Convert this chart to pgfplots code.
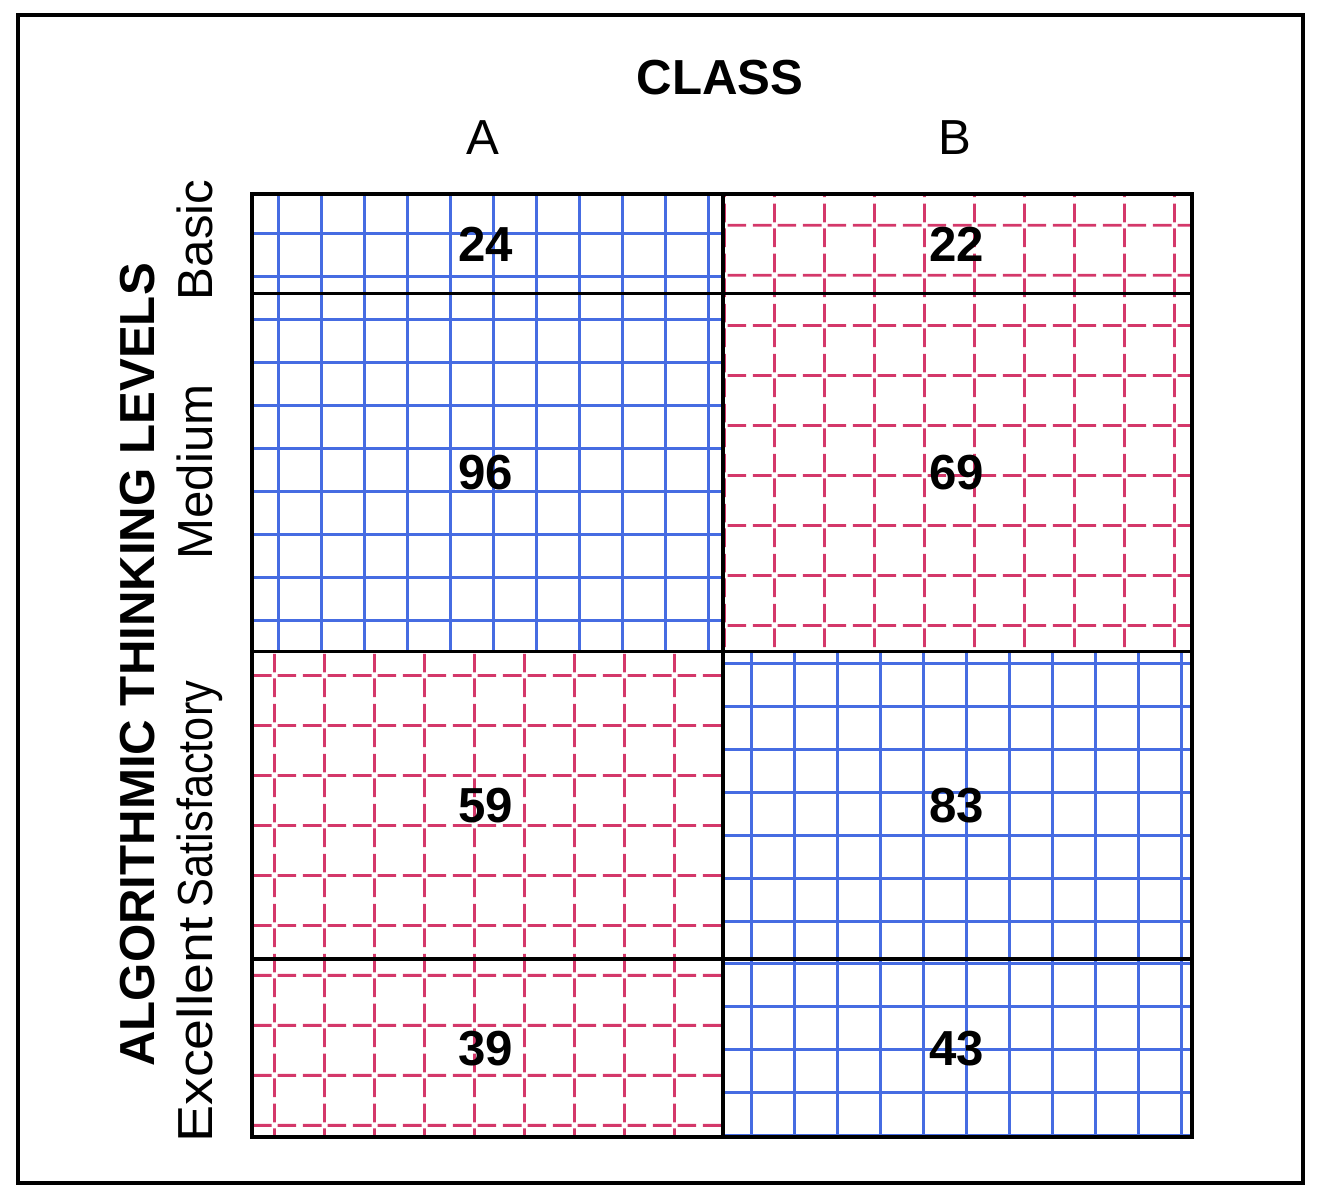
\documentclass[border=0pt]{standalone}
\usepackage{fontspec}
\setmainfont{Liberation Sans}
\usepackage{pgfplots}
\pgfplotsset{compat=1.18}
\usetikzlibrary{patterns.meta}

\definecolor{gblue}{RGB}{70,108,226}
\definecolor{gred}{RGB}{212,56,106}
\newcommand\fs{\fontsize{14}{17}\selectfont}

% solid grid (blue cells) and dashed grid (red cells)
\tikzdeclarepattern{
  name=bgrid, type=uncolored,
  tile size={(0.43cm,0.43cm)},
  bounding box={(0,0) and (0.43cm,0.43cm)},
  code={\draw[line width=0.75pt] (0,0.215cm) -- (0.43cm,0.215cm)
        (0.215cm,0) -- (0.215cm,0.43cm);}
}
\tikzdeclarepattern{
  name=rgrid, type=uncolored,
  tile size={(0.50cm,0.50cm)},
  bounding box={(0,0) and (0.50cm,0.50cm)},
  code={\draw[line width=0.8pt, dash pattern=on 0.19cm off 0.06cm, dash phase=0.22cm]
        (0,0.25cm) -- (0.50cm,0.25cm) (0.25cm,0) -- (0.25cm,0.50cm);}
}

\begin{document}
\begin{tikzpicture}
\path (0,0) rectangle (13.21,12.00);
\draw[line width=1pt] (0.18,0.17) rectangle (13.03,11.85);

% columns: A = 218, B = 217 pupils; rows: Basic 46, Medium 165, Satisfactory 142, Excellent 82
\begin{axis}[
  at={(2.52cm,0.63cm)}, anchor=south west,
  scale only axis, width=9.40cm, height=9.43cm,
  xmin=0, xmax=435, ymin=0, ymax=435, y dir=reverse,
  hide axis, clip=false,
  cell/.style={draw=black, line width=1pt},
]
% class A
\addplot[cell, pattern=bgrid, pattern color=gblue] coordinates {(0,0) (218,0) (218,46) (0,46)} -- cycle;
\addplot[cell, pattern=bgrid, pattern color=gblue] coordinates {(0,46) (218,46) (218,211) (0,211)} -- cycle;
\addplot[cell, pattern=rgrid, pattern color=gred] coordinates {(0,211) (218,211) (218,353) (0,353)} -- cycle;
\addplot[cell, pattern=rgrid, pattern color=gred] coordinates {(0,353) (218,353) (218,435) (0,435)} -- cycle;
% class B
\addplot[cell, pattern=rgrid, pattern color=gred] coordinates {(218,0) (435,0) (435,46) (218,46)} -- cycle;
\addplot[cell, pattern=rgrid, pattern color=gred] coordinates {(218,46) (435,46) (435,211) (218,211)} -- cycle;
\addplot[cell, pattern=bgrid, pattern color=gblue] coordinates {(218,211) (435,211) (435,353) (218,353)} -- cycle;
\addplot[cell, pattern=bgrid, pattern color=gblue] coordinates {(218,353) (435,353) (435,435) (218,435)} -- cycle;

\begin{scope}[every node/.style={font=\fs\bfseries}]
\node at (axis cs:108,23) {24};
\node at (axis cs:108,128.5) {96};
\node at (axis cs:108,282) {59};
\node at (axis cs:108,394) {39};
\node at (axis cs:326,23) {22};
\node at (axis cs:326,128.5) {69};
\node at (axis cs:326,282) {83};
\node at (axis cs:326,394) {43};
\end{scope}
\end{axis}

\node[font=\fs\bfseries, anchor=base] at (7.20,11.05) {CLASS};
\node[font=\fs, anchor=base] at (4.83,10.45) {A};
\node[font=\fs, anchor=base] at (9.55,10.45) {B};

\node[font=\fs\bfseries, anchor=base, rotate=90] at (1.55,5.35) {ALGORITHMIC THINKING LEVELS};
\node[font=\fs, anchor=base, rotate=90] at (2.13,9.60) {Basic};
\node[font=\fs, anchor=base, rotate=90] at (2.13,7.28) {Medium};
\node[font=\fs, anchor=base, rotate=90] at (2.13,4.06) {\scalebox{0.88}[1]{Satisfactory}};
\node[font=\fs, anchor=base, rotate=90] at (2.13,1.70) {\scalebox{1.13}[1]{Excellent}};
\end{tikzpicture}
\end{document}
